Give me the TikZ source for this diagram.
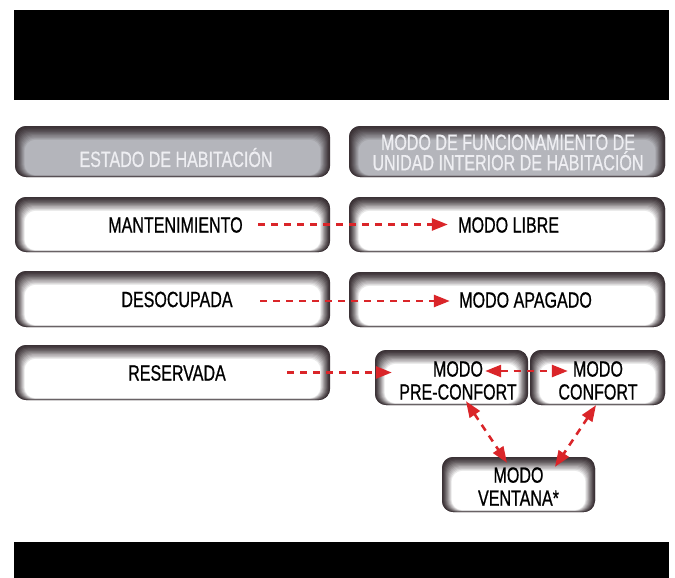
\documentclass[tikz,border=0pt]{standalone}
\usepackage{fontspec}
\setmainfont{Liberation Sans}[FakeStretch=0.73,FakeBold=0.7]
\usetikzlibrary{arrows.meta,positioning}
\definecolor{tileedge}{HTML}{3B3236}
\definecolor{hdrgray}{HTML}{B4B5BB}
\definecolor{hdrtext}{HTML}{EEEEF2}
\definecolor{linkred}{HTML}{DA2529}

\begin{document}
\begin{tikzpicture}[x=1pt,y=-1pt,
  tile/.style={rounded corners=11pt,inner sep=0pt,fill=tileedge,
    path picture={\foreach \k in {0,...,12}{
      \pgfmathtruncatemacro\mixv{100*(\k/12)^1.3}
      \fill[#1!\mixv!tileedge,rounded corners=11pt]
        ([xshift={\k*0.8pt},yshift={-\k*1.15pt}]path picture bounding box.north west) rectangle
        ([xshift={-\k*0.8pt},yshift={\k*0.15pt}]path picture bounding box.south east);}}},
  tile/.default=white,
  head/.style={tile=hdrgray,minimum height=51pt},
  lbl/.style={inner sep=0pt,align=center,font=\fontsize{22}{23}\selectfont},
  hlbl/.style={lbl,text=hdrtext,font=\fontsize{22}{19}\selectfont},
  link/.style={draw=linkred,line width=2.6pt,dash pattern=on 7pt off 6pt,-{Triangle[length=16pt,width=12pt]}},
  link2/.style={link,{Triangle[length=16pt,width=12pt]}-{Triangle[length=16pt,width=12pt]}}]
\useasboundingbox (0,0) rectangle (675,578);
% black bars
\fill[black] (14,10) rectangle (669,100);
\fill[black] (14,542) rectangle (669,578);
% headers
\node[head,minimum width=315pt] (hdrRoom) at (172.5,151.5) {};
\node[head,minimum width=316pt] (hdrMode) at (507,151.5) {};
\node[hlbl] (hdrRoomT) at (176,157.5) {ESTADO DE HABITACIÓN};
\node[hlbl] (hdrModeT) at (508,152.5) {MODO DE FUNCIONAMIENTO DE\\UNIDAD INTERIOR DE HABITACIÓN};
% room states
\node[tile,minimum width=315pt,minimum height=55pt] (mant) at (172.5,224.5) {};
\node[tile,minimum width=315pt,minimum height=56pt] (desoc) at (172.5,299) {};
\node[tile,minimum width=315pt,minimum height=55pt] (reserv) at (172.5,372.5) {};
\node[lbl] (mantT) at (175.5,225) {MANTENIMIENTO};
\node[lbl] (desocT) at (177,299.5) {DESOCUPADA};
\node[lbl] (reservT) at (177,373) {RESERVADA};
% unit modes
\node[tile,minimum width=316pt,minimum height=55pt] (libre) at (507,224.5) {};
\node[tile,minimum width=316pt,minimum height=55pt] (apag) at (507,299.5) {};
\node[tile,minimum width=153pt,minimum height=55pt] (precon) at (451.5,377.5) {};
\node[tile,minimum width=135pt,minimum height=55pt] (confort) at (597.5,377.5) {};
\node[tile,minimum width=153pt,minimum height=55pt] (ventana) at (518.5,484.5) {};
\node[lbl,anchor=west] (libreT) at (458,225) {MODO LIBRE};
\node[lbl,anchor=west] (apagT) at (459,300) {MODO APAGADO};
\node[lbl] (preconT) at (458,380.5) {MODO\\PRE-CONFORT};
\node[lbl] (confortT) at (598,380.5) {MODO\\CONFORT};
\node[lbl] (ventanaT) at (518.5,486.5) {MODO\\VENTANA*};
% links
\draw[link] ([xshift=-72pt]mant.east) -- ([xshift=99pt]libre.west);
\draw[link] ([xshift=-70pt,yshift=-2pt]desoc.east) -- ([xshift=101pt,yshift=-2pt]desoc.east -| apag.west);
\draw[link] ([xshift=-43pt]reserv.east) -- ([xshift=17pt]reserv.east -| precon.west);
\draw[link2] ([xshift=-43pt,yshift=6.5pt]precon.east) -- ([xshift=38pt,yshift=6.5pt]confort.west);
\draw[link2] ([xshift=14.5pt,yshift=4pt]precon.south) -- ([xshift=-11.5pt,yshift=-6pt]ventana.north);
\draw[link2] ([xshift=-1.5pt]confort.south) -- ([xshift=36.5pt,yshift=-10pt]ventana.north);
\end{tikzpicture}
\end{document}
